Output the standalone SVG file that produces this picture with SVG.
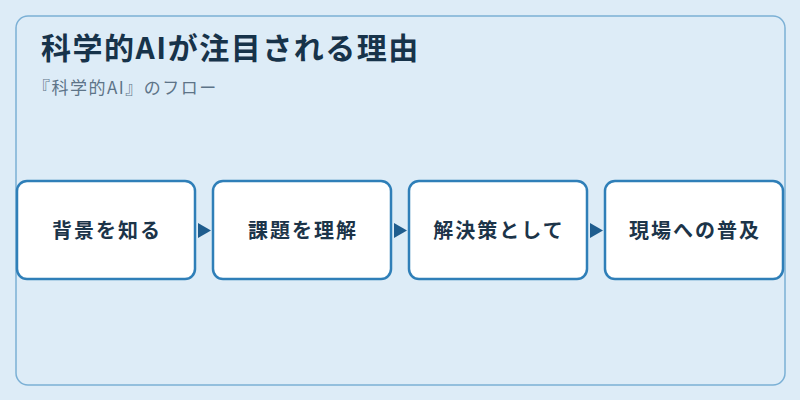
<svg xmlns="http://www.w3.org/2000/svg" width="800" height="400" viewBox="0 0 800 400">
<style>
.bg{fill:#ddecf7}
.frame{fill:#ddecf7;stroke:#7bb0d5;stroke-width:1.5}
.box{fill:#ffffff;stroke:#2f7fb8;stroke-width:2.5}
.lbl{font-family:"Noto Sans CJK JP","Noto Sans",sans-serif;font-weight:700;font-size:20px;fill:#1c3449;text-anchor:middle;letter-spacing:2px}
.title{font-family:"Noto Sans CJK JP","Noto Sans",sans-serif;font-weight:700;font-size:30px;fill:#17334a;letter-spacing:1.5px}
.sub{font-family:"Noto Sans CJK JP","Noto Sans",sans-serif;font-size:17px;fill:#5d7488;letter-spacing:1.5px}
.arr{fill:#1f5d8e}
</style>
<rect class="bg" x="0" y="0" width="800" height="400"/>
<rect class="frame" x="16" y="16" width="769" height="369" rx="12"/>
<text class="title" x="41" y="59">科学的AIが注目される理由</text>
<text class="sub" x="33" y="94">『科学的AI』のフロー</text>
<g id="connectors">
<polygon class="arr" points="198,223 211,230.5 198,238"/>
<polygon class="arr" points="394,223 407,230.5 394,238"/>
<polygon class="arr" points="590,223 603,230.5 590,238"/>
</g>
<g id="n1"><rect class="box" x="17" y="181" width="178" height="98" rx="10"/><text class="lbl" x="107" y="238">背景を知る</text></g>
<g id="n2"><rect class="box" x="213" y="181" width="178" height="98" rx="10"/><text class="lbl" x="303" y="238">課題を理解</text></g>
<g id="n3"><rect class="box" x="409" y="181" width="178" height="98" rx="10"/><text class="lbl" x="499" y="238">解決策として</text></g>
<g id="n4"><rect class="box" x="605" y="181" width="178" height="98" rx="10"/><text class="lbl" x="695" y="238">現場への普及</text></g>
</svg>
